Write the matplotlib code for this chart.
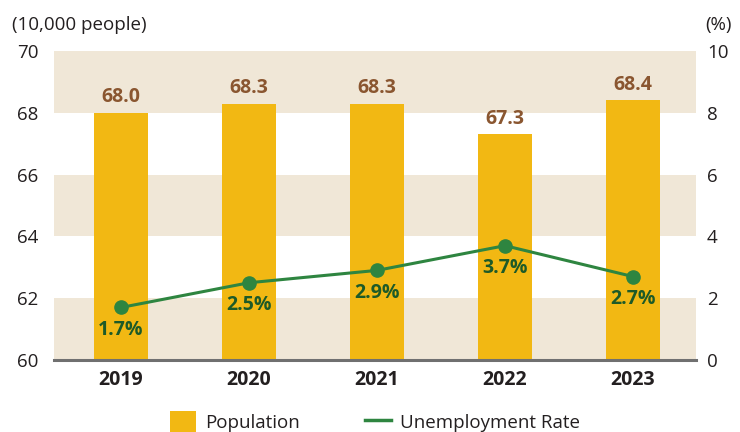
import matplotlib
matplotlib.use("Agg")
import matplotlib.pyplot as plt
from matplotlib.patches import Patch
from matplotlib.lines import Line2D

years = ["2019", "2020", "2021", "2022", "2023"]
population = [68.0, 68.3, 68.3, 67.3, 68.4]
unemployment = [1.7, 2.5, 2.9, 3.7, 2.7]
pop_ticks = [60, 62, 64, 66, 68, 70]
rate_ticks = [0, 2, 4, 6, 8, 10]

plt.rcParams['font.family'] = ['Open Sans', 'DejaVu Sans']

BAR = "#F2B813"
BAND = "#F0E7D7"
BROWN = "#8A5630"
GREEN = "#2E8540"
DGREEN = "#1D5A28"
TXT = "#231F20"

fig = plt.figure(figsize=(7.4, 4.32), dpi=100)
ax = fig.add_axes([54/740, 1-360/432, 642/740, 309/432])
x = list(range(len(years)))

for lo in [60, 64, 68]:
    ax.axhspan(lo, lo + 2, color=BAND, zorder=0, lw=0)

ax.bar(x, [p - 60 for p in population], bottom=60, width=0.42, color=BAR, zorder=2)
for xi, p in zip(x, population):
    ax.annotate(f"{p:.1f}", (xi, p), xytext=(0, 4), textcoords="offset points",
                ha="center", va="bottom", fontsize=14, fontweight="bold", color=BROWN, zorder=5)

ax.set_xlim(-0.523, 4.492)
ax.set_ylim(60, 70)
ax.set_yticks(pop_ticks)
ax.set_xticks(x)
ax.set_xticklabels(years, fontsize=14, fontweight="bold", color=TXT)
ax.tick_params(axis="y", length=0, labelsize=13.5, labelcolor=TXT, pad=11)
ax.tick_params(axis="x", length=0, pad=7)
for s in ["top", "left", "right"]:
    ax.spines[s].set_visible(False)
ax.spines["bottom"].set_color("#707070")
ax.spines["bottom"].set_linewidth(2.2)
ax.spines["bottom"].set_zorder(6)

ax2 = ax.twinx()
ax2.set_ylim(0, 10)
ax2.set_yticks(rate_ticks)
ax2.tick_params(axis="y", length=0, labelsize=13.5, labelcolor=TXT, pad=8)
for s in ["top", "left", "right", "bottom"]:
    ax2.spines[s].set_visible(False)
ax2.plot(x, unemployment, color=GREEN, lw=2.2, marker="o", markersize=9.5, zorder=4)
for xi, r in zip(x, unemployment):
    ax2.annotate(f"{r:.1f}%", (xi, r), xytext=(0, -9), textcoords="offset points",
                 ha="center", va="top", fontsize=14, fontweight="bold", color=DGREEN)

fig.text(12/740, 1-25/432, "(10,000 people)", fontsize=13.5, color=TXT, ha="left", va="center")
fig.text(705/740, 1-25/432, "(%)", fontsize=13.5, color=TXT, ha="left", va="center")

handles = [Patch(facecolor=BAR, edgecolor="none"),
           Line2D([0], [0], color=GREEN, lw=2.5)]
fig.legend(handles, ["Population", "Unemployment Rate"], loc="center",
           bbox_to_anchor=(375/740, 1-422/432), ncol=2, frameon=False,
           fontsize=13.5, handlelength=1.4, handleheight=1.4, columnspacing=3.5,
           handletextpad=0.45, labelcolor=TXT)

fig.savefig("out.png", dpi=100)
